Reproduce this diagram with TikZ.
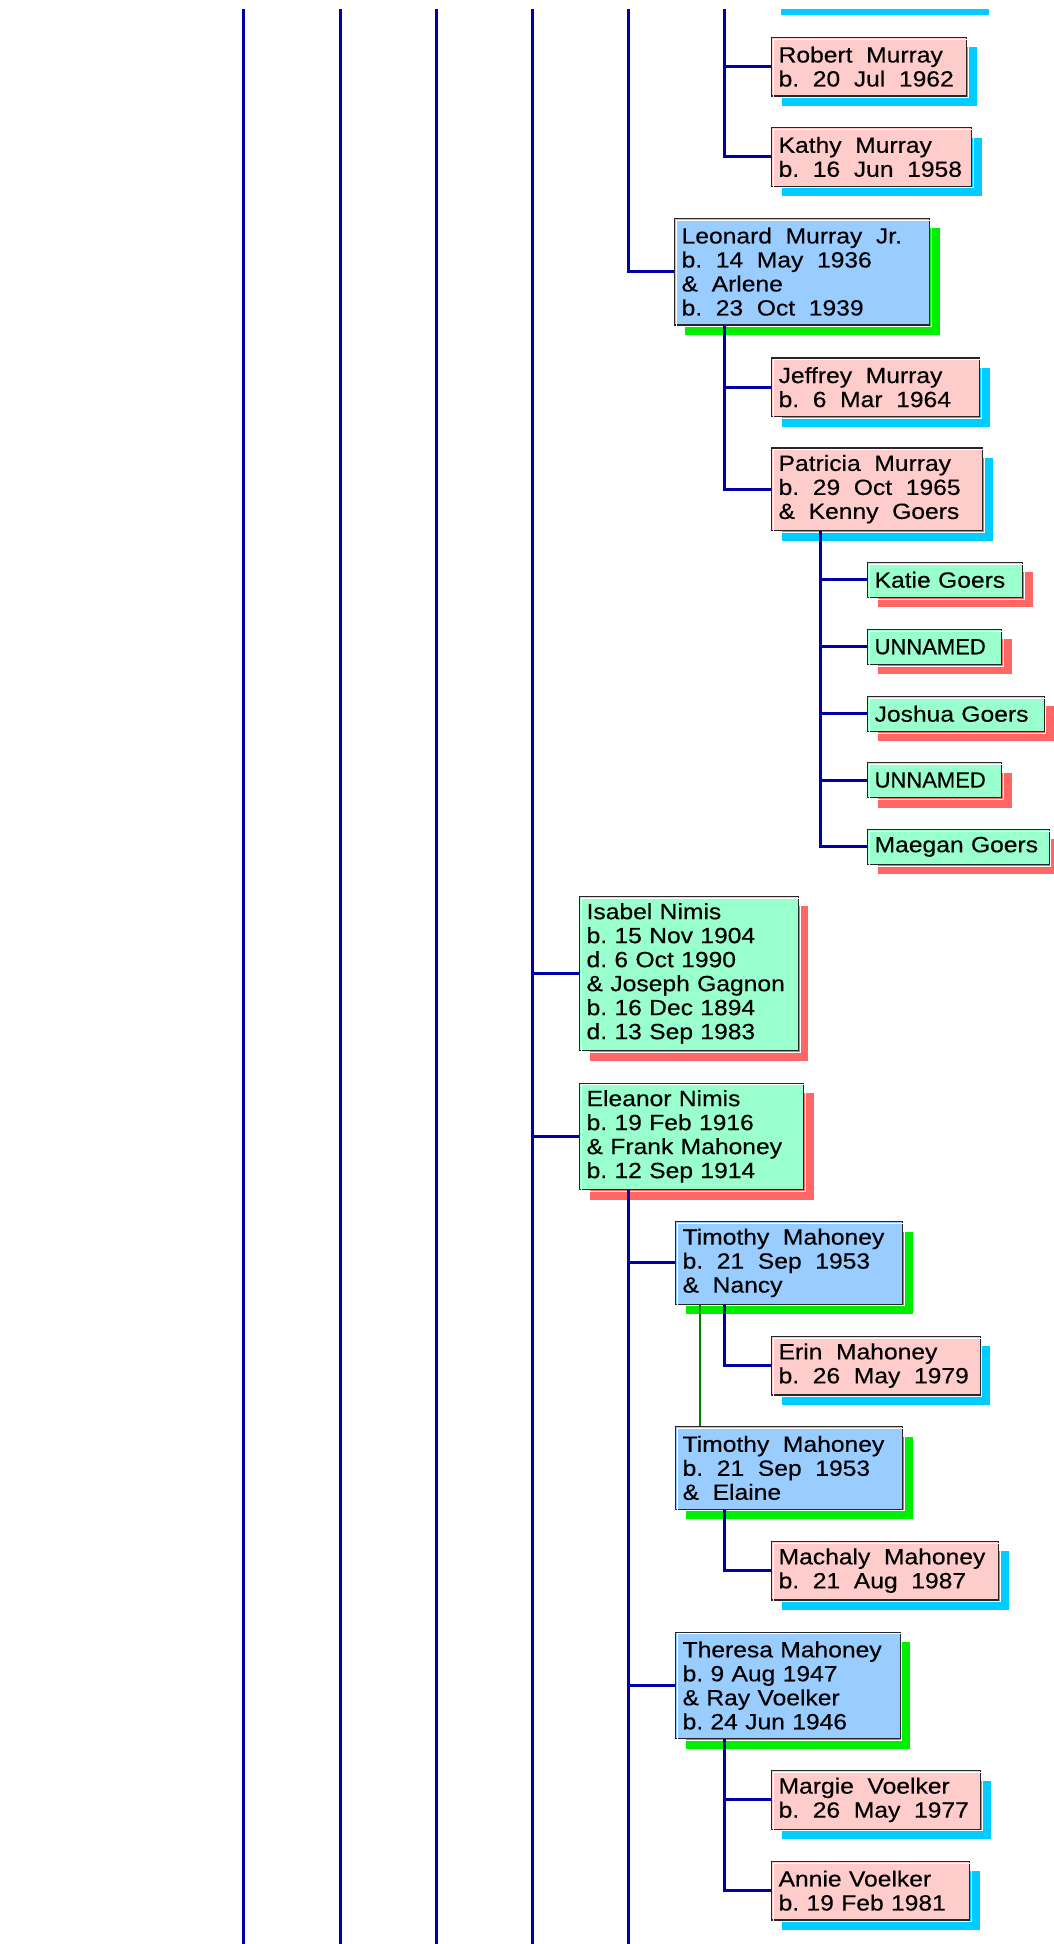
\documentclass[tikz,border=0pt]{standalone}
\usepackage{fontspec}
\setmainfont{Liberation Sans}[FakeStretch=1.12, FakeBold=0.4]
\newfontfamily\plainsans{Liberation Sans}[FakeBold=0.4]
\usepackage{xcolor}
\usepackage{tikz}
\usetikzlibrary{shadows, calc}

\definecolor{pinkfill}{HTML}{FFCCCC}
\definecolor{bluefill}{HTML}{99CCFF}
\definecolor{mintfill}{HTML}{99FFCC}
\definecolor{cyanshade}{HTML}{00CCFF}
\definecolor{greenshade}{HTML}{00EE00}
\definecolor{redshade}{HTML}{FF6666}
\definecolor{linkblue}{HTML}{0000AA}
\definecolor{spousegreen}{HTML}{008000}

\newcommand\boxfont{\fontsize{22}{24}\selectfont\frenchspacing}
\newcommand\widegaps{\spaceskip=0.62em\relax}

\tikzset{
  person/.style={shape=rectangle, draw=black!85, line width=1.2pt, anchor=north west,
    align=left, inner xsep=7pt, inner ysep=2pt, font=\boxfont,
    postaction={draw=white, line width=1pt, transform canvas={xshift=1.7pt, yshift=-1.7pt}}},
  pinkbox/.style={person, fill=pinkfill,
    drop shadow={shadow xshift=10pt, shadow yshift=-10pt, fill=cyanshade, opacity=1}},
  bluebox/.style={person, fill=bluefill,
    drop shadow={shadow xshift=10pt, shadow yshift=-10pt, fill=greenshade, opacity=1}},
  mintbox/.style={person, fill=mintfill,
    drop shadow={shadow xshift=10pt, shadow yshift=-10pt, fill=redshade, opacity=1}},
  wide/.style={execute at begin node=\widegaps},
  narrow/.style={font=\plainsans\boxfont},
  link/.style={draw=linkblue, line width=3pt},
  spouse/.style={draw=spousegreen, line width=1.6pt},
}

\begin{document}
\begin{tikzpicture}[x=1pt, y=-1pt]

\useasboundingbox (0,0) rectangle (1054,1944);
\clip (0,9.3) rectangle (1054,1944);

% shadow of the box cut off above
\fill[cyanshade] (781,0) rectangle (989,14.7);

% Murray branch
\node (robert) [pinkbox, wide, text width=181pt, minimum height=58.6pt] at (771,36.7) {Robert Murray\\b. 20 Jul 1962};
\node (kathy) [pinkbox, wide, text width=186pt, minimum height=58.6pt] at (771,127) {Kathy Murray\\b. 16 Jun 1958};
\node (leonard) [bluebox, wide, text width=241pt, minimum height=106.6pt] at (674,217.7) {Leonard Murray Jr.\\b. 14 May 1936\\\& Arlene\\b. 23 Oct 1939};
\node (jeffrey) [pinkbox, wide, text width=194pt, minimum height=58.6pt] at (771,357.3) {Jeffrey Murray\\b. 6 Mar 1964};
\node (patricia) [pinkbox, wide, text width=197pt, minimum height=82.6pt] at (771,447.3) {Patricia Murray\\b. 29 Oct 1965\\\& Kenny Goers};

% Goers children
\node (katie) [mintbox, text width=141pt, minimum height=35pt] at (867,561.7) {Katie Goers};
\node (unnamedA) [mintbox, narrow, text width=120pt, minimum height=35pt] at (867,628.7) {UNNAMED};
\node (joshua) [mintbox, text width=162.6pt, minimum height=35pt] at (867,695.7) {Joshua Goers};
\node (unnamedB) [mintbox, narrow, text width=120pt, minimum height=35pt] at (867,762) {UNNAMED};
\node (maegan) [mintbox, text width=167.6pt, minimum height=35pt] at (867,828.7) {Maegan Goers};

% Nimis daughters
\node (isabel) [mintbox, text width=204.7pt, minimum height=154.3pt] at (579,895.7) {Isabel Nimis\\b. 15 Nov 1904\\d. 6 Oct 1990\\\& Joseph Gagnon\\b. 16 Dec 1894\\d. 13 Sep 1983};
\node (eleanor) [mintbox, text width=210pt, minimum height=106.6pt] at (579,1082.5) {Eleanor Nimis\\b. 19 Feb 1916\\\& Frank Mahoney\\b. 12 Sep 1914};

% Mahoney branch
\node (timnancy) [bluebox, wide, text width=213pt, minimum height=82.6pt] at (675,1221) {Timothy Mahoney\\b. 21 Sep 1953\\\& Nancy};
\node (erin) [pinkbox, wide, text width=194.6pt, minimum height=58.6pt] at (771,1335.7) {Erin Mahoney\\b. 26 May 1979};
\node (timelaine) [bluebox, wide, text width=213pt, minimum height=82.6pt] at (675,1426) {Timothy Mahoney\\b. 21 Sep 1953\\\& Elaine};
\node (machaly) [pinkbox, wide, text width=213pt, minimum height=58.6pt] at (771,1540.7) {Machaly Mahoney\\b. 21 Aug 1987};
\node (theresa) [bluebox, text width=210.6pt, minimum height=106.6pt] at (675,1631.5) {Theresa Mahoney\\b. 9 Aug 1947\\\& Ray Voelker\\b. 24 Jun 1946};
\node (margie) [pinkbox, wide, text width=195pt, minimum height=58.6pt] at (771,1770) {Margie Voelker\\b. 26 May 1977};
\node (annie) [pinkbox, text width=184pt, minimum height=58.6pt] at (771,1860.7) {Annie Voelker\\b. 19 Feb 1981};

% generation lines
\foreach \x [count=\i] in {243.5, 340, 436, 532} {
  \coordinate (top\i) at (\x,9.3);
  \coordinate (bot\i) at (\x,1944);
  \draw[link] (top\i) -- (bot\i);
}
\coordinate (top5) at (628,9.3);
\coordinate (bot5) at (628,1944);
\coordinate (top6) at (724,9.3);

\draw[link] (top5) |- (leonard.west);
\draw[link] (top6) |- (robert.west);
\draw[link] (top6) |- (kathy.west);

\draw[link] (leonard.south west) ++(50,0) |- (jeffrey.west);
\draw[link] (leonard.south west) ++(50,0) |- (patricia.west);

\foreach \kid in {katie, unnamedA, joshua, unnamedB, maegan}
  \draw[link] (patricia.south west) ++(49,0) |- (\kid.west);

\draw[link] (top4) |- (isabel.west);
\draw[link] (top4) |- (eleanor.west);

\draw[link] (eleanor.south west) ++(49,0) -- (bot5);
\draw[link] (eleanor.south west) ++(49,0) |- (timnancy.west);
\draw[link] (eleanor.south west) ++(49,0) |- (theresa.west);

\draw[link] (timnancy.south west) ++(49,0) |- (erin.west);
\draw[spouse] ($(timnancy.south west)+(25,0)$) -- ($(timelaine.north west)+(25,0)$);
\draw[link] (timelaine.south west) ++(49,0) |- (machaly.west);

\draw[link] (theresa.south west) ++(49,0) |- (margie.west);
\draw[link] (theresa.south west) ++(49,0) |- (annie.west);

\end{tikzpicture}
\end{document}
